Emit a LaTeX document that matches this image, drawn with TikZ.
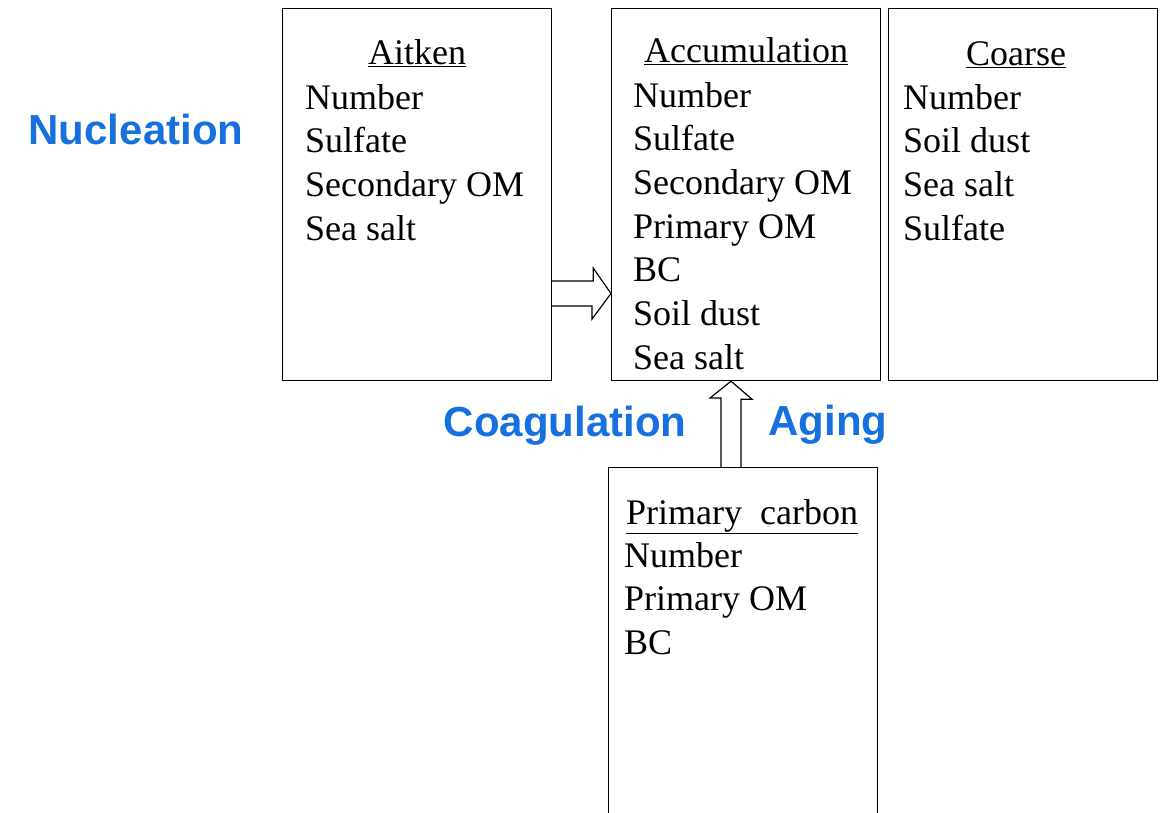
\documentclass[tikz,border=0pt]{standalone}
\usepackage{fontspec}
\setmainfont{Liberation Serif}
\newfontfamily\labelfont{Liberation Sans}
\usetikzlibrary{calc}
\definecolor{procblue}{RGB}{22,113,222}

\begin{document}
\begin{tikzpicture}[x=1pt,y=-1pt,
        box/.style={draw,line width=1.2pt,minimum width=269pt,minimum height=372pt,inner sep=0pt,anchor=north west},
        ttl/.style={anchor=base,inner sep=0pt,font=\fontsize{36}{40}\selectfont},
        item/.style={anchor=base west,inner sep=0pt,font=\fontsize{36}{40}\selectfont},
        proc/.style={anchor=base,inner sep=0pt,text=procblue,font=\labelfont\bfseries\fontsize{42}{44}\selectfont},
        blockarrow/.style={draw,line width=1.2pt,line join=miter}]
        \useasboundingbox (0,0) rectangle (1166,812);
        \clip (0,0) rectangle (1166,812);
        %箱
        \node[box] (aitken) at (282,8) {};
        \node[box] (accum) at (611,8) {};
        \node[box] (coarse) at (888,8) {};
        \node[box] (prim) at (608,467) {};
        %見出し
        \node[ttl] (aitken-t) at ($(aitken.north)+(0,56)$) {\underline{Aitken}};
        \node[ttl] (accum-t) at ($(accum.north)+(0,54)$) {\underline{Accumulation}};
        \node[ttl] (coarse-t) at ($(coarse.north)+(-7,57)$) {\underline{Coarse}};
        \node[ttl] (prim-t) at ($(prim.north)+(-1,57)$) {\underline{Primary\ \ carbon}};
        %成分
        \foreach \t [count=\i from 0] in {Number,Sulfate,Secondary OM,Sea salt}
            \node[item] (aitken-\i) at ($(aitken.north west)+(23,101+43.7*\i)$) {\t};
        \foreach \t [count=\i from 0] in {Number,Sulfate,Secondary OM,Primary OM,BC,Soil dust,Sea salt}
            \node[item] (accum-\i) at ($(accum.north west)+(22,99+43.7*\i)$) {\t};
        \foreach \t [count=\i from 0] in {Number,Soil dust,Sea salt,Sulfate}
            \node[item] (coarse-\i) at ($(coarse.north west)+(15,101+43.7*\i)$) {\t};
        \foreach \t [count=\i from 0] in {Number,Primary OM,BC}
            \node[item] (prim-\i) at ($(prim.north west)+(16,100+43.7*\i)$) {\t};
        %矢印
        \path (0,293.5) coordinate (rmid) (731,0) coordinate (umid);
        \draw[blockarrow] (aitken.east |- rmid) ++(0,-12.5) -- ++(41,0) -- ++(0,-13) -- (accum.west |- rmid)
            -- ++(-19,25.5) -- ++(0,-13) -- ++(-41,0);
        \draw[blockarrow] (prim.north -| umid) ++(-10,0) -- ++(0,-69) -- ++(-11,0) -- (accum.south -| umid)
            -- ++(21,18) -- ++(-11,0) -- ++(0,69);
        %過程
        \node[proc] (nucl) at (136,144) {Nucleation};
        \node[proc] (coag) at (565,436) {Coagulation};
        \node[proc] (aging) at (828,435) {Aging};
    \end{tikzpicture}
\end{document}
